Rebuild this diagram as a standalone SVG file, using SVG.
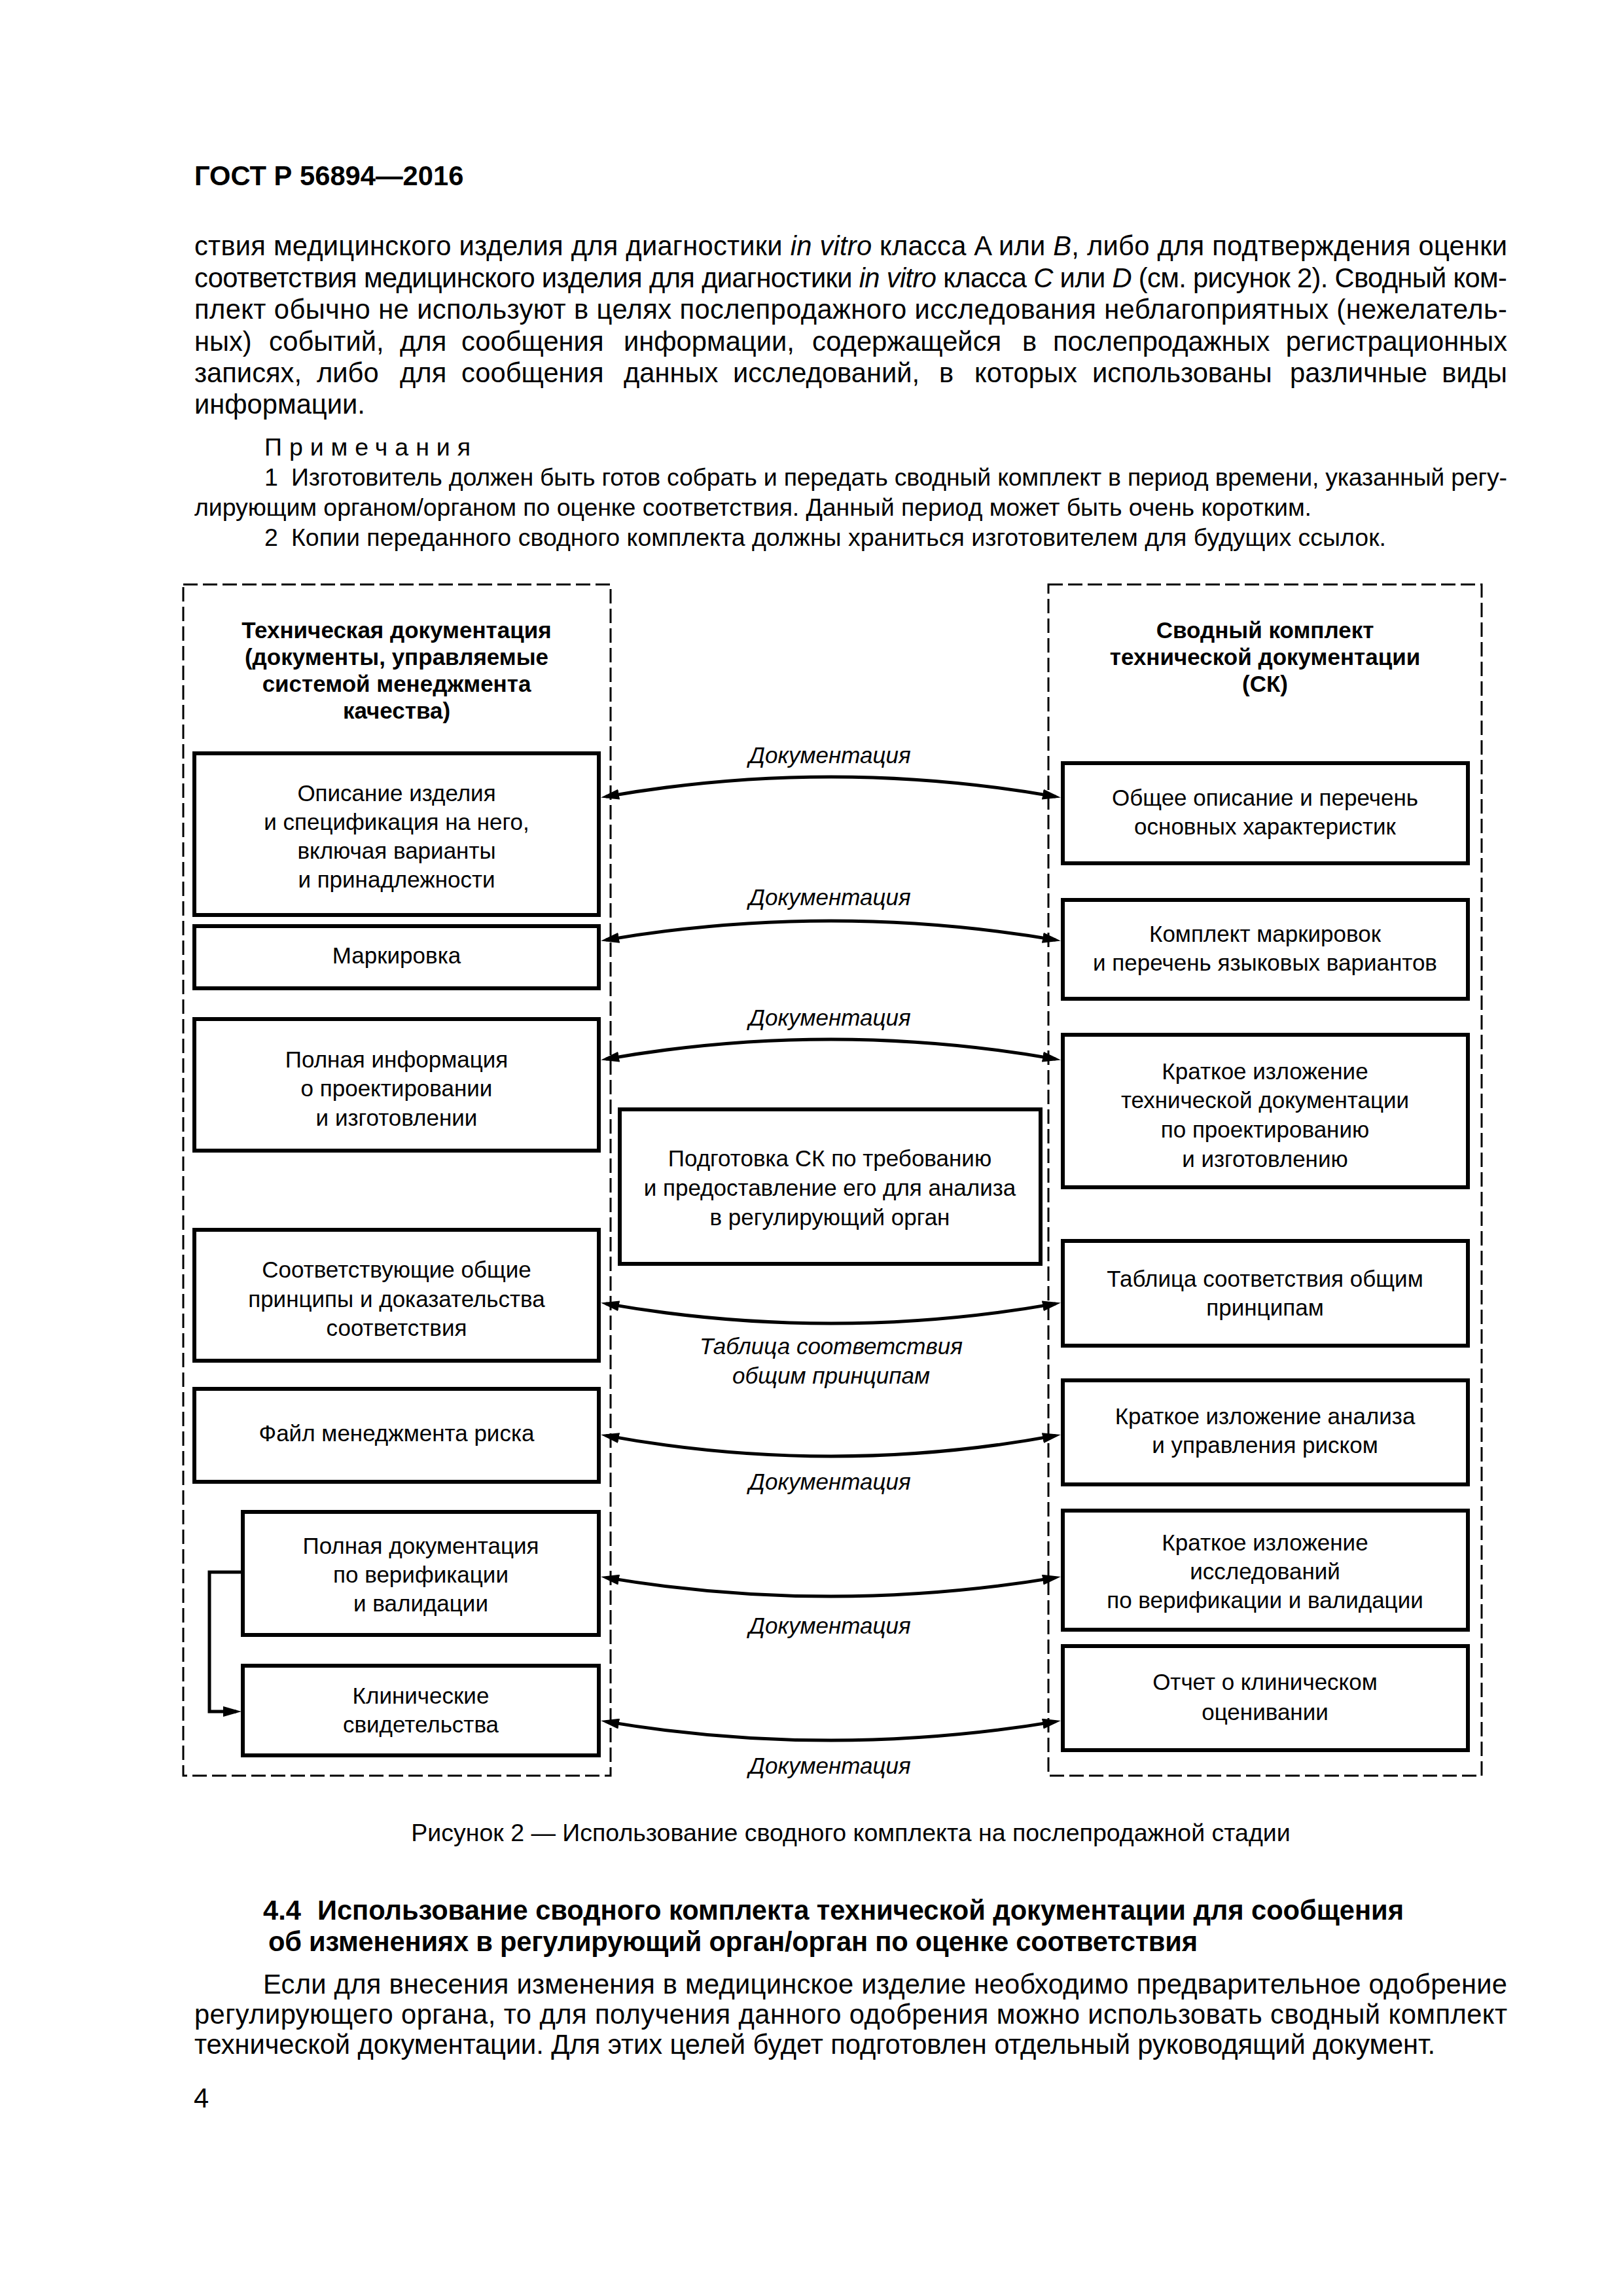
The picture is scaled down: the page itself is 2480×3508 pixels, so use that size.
<svg xmlns="http://www.w3.org/2000/svg" width="2480" height="3508" viewBox="0 0 2480 3508">
<style>
text{font-family:'Liberation Sans',Arial,sans-serif;fill:#000}
.body{font-size:41.7px}
.note{font-size:37.5px}
.b{font-weight:bold}
.i{font-style:italic}
.dg{font-size:35px}
.c{text-anchor:middle}
.box{fill:#fff;stroke:#000;stroke-width:6}
.dash{fill:none;stroke:#000;stroke-width:3;stroke-dasharray:22 8}
.conn{fill:none;stroke:#000;stroke-width:5}
</style>
<defs>
<marker id="ah" viewBox="0 0 28 16" refX="20" refY="8" markerWidth="28" markerHeight="16" markerUnits="userSpaceOnUse" orient="auto-start-reverse"><path d="M0,0 L28,8 L0,16 z" fill="#000"/></marker>
</defs>
<rect width="2480" height="3508" fill="#fff"/>

<g id="page-text">
<text class="b" x="297" y="283" font-size="41.7">ГОСТ Р 56894—2016</text>
<text class="body" x="297" y="390" textLength="2006" lengthAdjust="spacing">ствия медицинского изделия для диагностики <tspan class="i">in vitro</tspan> класса A или <tspan class="i">B</tspan>, либо для подтверждения оценки</text>
<text class="body" x="297" y="438.5" textLength="2006" lengthAdjust="spacing">соответствия медицинского изделия для диагностики <tspan class="i">in vitro</tspan> класса <tspan class="i">C</tspan> или <tspan class="i">D</tspan> (см. рисунок 2). Сводный ком-</text>
<text class="body" x="297" y="487" textLength="2006" lengthAdjust="spacing">плект обычно не используют в целях послепродажного исследования неблагоприятных (нежелатель-</text>
<text class="body" y="535.5"><tspan x="297">ных)</tspan><tspan x="411">событий,</tspan><tspan x="611">для</tspan><tspan x="705">сообщения</tspan><tspan x="953">информации,</tspan><tspan x="1241">содержащейся</tspan><tspan x="1562">в</tspan><tspan x="1609">послепродажных</tspan></text>
<text class="body" x="2303" y="535.5" text-anchor="end">регистрационных</text>
<text class="body" y="584"><tspan x="297">записях,</tspan><tspan x="484">либо</tspan><tspan x="611">для</tspan><tspan x="705">сообщения</tspan><tspan x="953">данных</tspan><tspan x="1120">исследований,</tspan><tspan x="1435">в</tspan><tspan x="1489">которых</tspan><tspan x="1669">использованы</tspan><tspan x="1971">различные</tspan></text>
<text class="body" x="2303" y="584" text-anchor="end">виды</text>
<text class="body" x="297" y="632">информации.</text>
<text class="note" x="404" y="696" textLength="315" lengthAdjust="spacing">Примечания</text>
<text class="note" x="404" y="742">1</text>
<text class="note" x="445" y="742" textLength="1858" lengthAdjust="spacing">Изготовитель должен быть готов собрать и передать сводный комплект в период времени, указанный регу-</text>
<text class="note" x="297" y="788" textLength="1707" lengthAdjust="spacing">лирующим органом/органом по оценке соответствия. Данный период может быть очень коротким.</text>
<text class="note" x="404" y="834">2</text>
<text class="note" x="445" y="834" textLength="1673" lengthAdjust="spacing">Копии переданного сводного комплекта должны храниться изготовителем для будущих ссылок.</text>
<text class="note c" x="1300" y="2813">Рисунок 2 — Использование сводного комплекта на послепродажной стадии</text>
<text class="body b" x="402" y="2933">4.4</text>
<text class="body b" x="485" y="2933" textLength="1660" lengthAdjust="spacing">Использование сводного комплекта технической документации для сообщения</text>
<text class="body b" x="410" y="2981" textLength="1420" lengthAdjust="spacing">об изменениях в регулирующий орган/орган по оценке соответствия</text>
<text class="body" x="402" y="3046" textLength="1901" lengthAdjust="spacing">Если для внесения изменения в медицинское изделие необходимо предварительное одобрение</text>
<text class="body" x="297" y="3092" textLength="2006" lengthAdjust="spacing">регулирующего органа, то для получения данного одобрения можно использовать сводный комплект</text>
<text class="body" x="297" y="3138" textLength="1896" lengthAdjust="spacing">технической документации. Для этих целей будет подготовлен отдельный руководящий документ.</text>
<text class="body" x="296" y="3220">4</text>
</g>

<g id="group-left">
<rect class="dash" x="280" y="893" width="653" height="1820"/>
<text class="dg b c" x="606" y="975">Техническая документация</text>
<text class="dg b c" x="606" y="1016">(документы, управляемые</text>
<text class="dg b c" x="606" y="1057">системой менеджмента</text>
<text class="dg b c" x="606" y="1098">качества)</text>
</g>
<g id="group-right">
<rect class="dash" x="1602" y="893" width="662" height="1820"/>
<text class="dg b c" x="1933" y="975">Сводный комплект</text>
<text class="dg b c" x="1933" y="1016">технической документации</text>
<text class="dg b c" x="1933" y="1057">(СК)</text>
</g>

<g id="L1"><rect class="box" x="297" y="1151" width="618" height="247"/>
<text class="dg c" x="606" y="1224">Описание изделия</text>
<text class="dg c" x="606" y="1268">и спецификация на него,</text>
<text class="dg c" x="606" y="1312">включая варианты</text>
<text class="dg c" x="606" y="1356">и принадлежности</text></g>
<g id="L2"><rect class="box" x="297" y="1415" width="618" height="95"/>
<text class="dg c" x="606" y="1472">Маркировка</text></g>
<g id="L3"><rect class="box" x="297" y="1557" width="618" height="201"/>
<text class="dg c" x="606" y="1631">Полная информация</text>
<text class="dg c" x="606" y="1675">о проектировании</text>
<text class="dg c" x="606" y="1720">и изготовлении</text></g>
<g id="L4"><rect class="box" x="297" y="1879" width="618" height="200"/>
<text class="dg c" x="606" y="1952">Соответствующие общие</text>
<text class="dg c" x="606" y="1997">принципы и доказательства</text>
<text class="dg c" x="606" y="2041">соответствия</text></g>
<g id="L5"><rect class="box" x="297" y="2122" width="618" height="142"/>
<text class="dg c" x="606" y="2202">Файл менеджмента риска</text></g>
<g id="L6"><rect class="box" x="371" y="2310" width="544" height="188"/>
<text class="dg c" x="643" y="2374">Полная документация</text>
<text class="dg c" x="643" y="2418">по верификации</text>
<text class="dg c" x="643" y="2462">и валидации</text></g>
<g id="L7"><rect class="box" x="371" y="2545" width="544" height="137"/>
<text class="dg c" x="643" y="2603">Клинические</text>
<text class="dg c" x="643" y="2647">свидетельства</text></g>

<g id="C"><rect class="box" x="947" y="1695" width="643" height="236"/>
<text class="dg c" x="1268" y="1782">Подготовка СК по требованию</text>
<text class="dg c" x="1268" y="1827">и предоставление его для анализа</text>
<text class="dg c" x="1268" y="1872">в регулирующий орган</text></g>

<g id="R1"><rect class="box" x="1624" y="1166" width="619" height="153"/>
<text class="dg c" x="1933" y="1231">Общее описание и перечень</text>
<text class="dg c" x="1933" y="1275">основных характеристик</text></g>
<g id="R2"><rect class="box" x="1624" y="1375" width="619" height="151"/>
<text class="dg c" x="1933" y="1439">Комплект маркировок</text>
<text class="dg c" x="1933" y="1483">и перечень языковых вариантов</text></g>
<g id="R3"><rect class="box" x="1624" y="1581" width="619" height="233"/>
<text class="dg c" x="1933" y="1649">Краткое изложение</text>
<text class="dg c" x="1933" y="1693">технической документации</text>
<text class="dg c" x="1933" y="1738">по проектированию</text>
<text class="dg c" x="1933" y="1783">и изготовлению</text></g>
<g id="R4"><rect class="box" x="1624" y="1896" width="619" height="160"/>
<text class="dg c" x="1933" y="1966">Таблица соответствия общим</text>
<text class="dg c" x="1933" y="2010">принципам</text></g>
<g id="R5"><rect class="box" x="1624" y="2109" width="619" height="159"/>
<text class="dg c" x="1933" y="2176">Краткое изложение анализа</text>
<text class="dg c" x="1933" y="2220">и управления риском</text></g>
<g id="R6"><rect class="box" x="1624" y="2308" width="619" height="182"/>
<text class="dg c" x="1933" y="2369">Краткое изложение</text>
<text class="dg c" x="1933" y="2413">исследований</text>
<text class="dg c" x="1933" y="2457">по верификации и валидации</text></g>
<g id="R7"><rect class="box" x="1624" y="2515" width="619" height="159"/>
<text class="dg c" x="1933" y="2582">Отчет о клиническом</text>
<text class="dg c" x="1933" y="2628">оценивании</text></g>

<g id="connectors">
<path class="conn" marker-start="url(#ah)" marker-end="url(#ah)" d="M926,1217.1 Q1269.5,1156.9 1613,1217.1"/>
<path class="conn" marker-start="url(#ah)" marker-end="url(#ah)" d="M926,1436.1 Q1269.5,1377.9 1613,1436.1"/>
<path class="conn" marker-start="url(#ah)" marker-end="url(#ah)" d="M926,1618.1 Q1269.5,1557.9 1613,1618.1"/>
<path class="conn" marker-start="url(#ah)" marker-end="url(#ah)" d="M926,1991.9 Q1269.5,2052.1 1613,1991.9"/>
<path class="conn" marker-start="url(#ah)" marker-end="url(#ah)" d="M926,2193.4 Q1269.5,2256.6 1613,2193.4"/>
<path class="conn" marker-start="url(#ah)" marker-end="url(#ah)" d="M926,2410.4 Q1269.5,2467.6 1613,2410.4"/>
<path class="conn" marker-start="url(#ah)" marker-end="url(#ah)" d="M926,2630.4 Q1269.5,2687.6 1613,2630.4"/>
<path class="conn" marker-end="url(#ah)" d="M368,2402 H320 V2615 H361"/>
<text class="dg i c" x="1268" y="1166">Документация</text>
<text class="dg i c" x="1268" y="1383">Документация</text>
<text class="dg i c" x="1268" y="1567">Документация</text>
<text class="dg i c" x="1270" y="2069">Таблица соответствия</text>
<text class="dg i c" x="1270" y="2114">общим принципам</text>
<text class="dg i c" x="1268" y="2276">Документация</text>
<text class="dg i c" x="1268" y="2496">Документация</text>
<text class="dg i c" x="1268" y="2710">Документация</text>
</g>
</svg>
